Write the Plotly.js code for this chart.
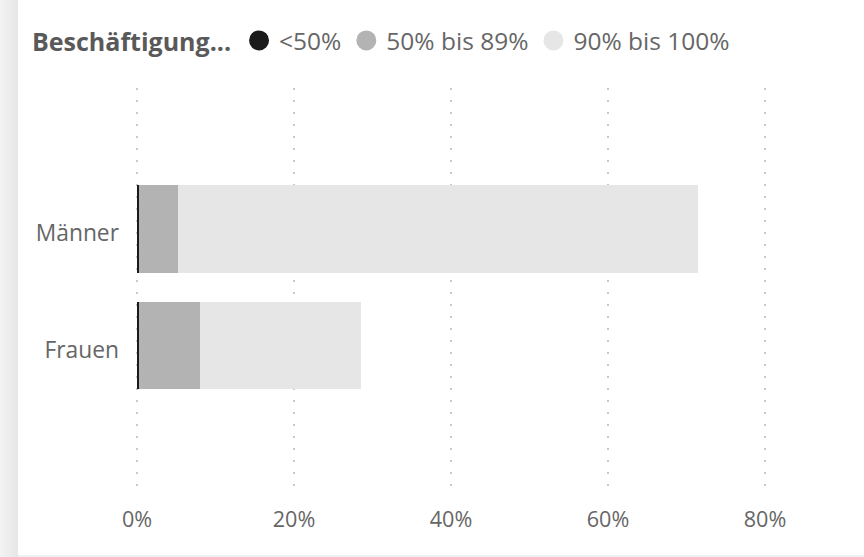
<!DOCTYPE html>
<html>
<head>
<meta charset="utf-8">
<script src="https://cdn.plot.ly/plotly-3.0.1.min.js"></script>
<style>
  html, body { margin: 0; padding: 0; background: #ffffff; }
  #wrap { position: relative; width: 864px; height: 557px; overflow: hidden; background: #fff; }
  #edge { position: absolute; left: 0; top: 0; width: 18px; height: 557px;
          background: linear-gradient(to right, #f3f3f3, #e6e6e6); }
  #bottom { position: absolute; left: 18px; bottom: 0; width: 846px; height: 2px; background: #f0f0f0; }
  #chart { position: absolute; left: 0; top: 0; width: 864px; height: 557px; }
</style>
</head>
<body>
<div id="wrap">
  <div id="edge"></div>
  <div id="bottom"></div>
  <div id="chart"></div>
</div>
<script>
// Data
const categories = ['Frauen', 'Männer'];
const seriesNames = ['<50%', '50% bis 89%', '90% bis 100%'];
const seriesColors = ['#1b1b1b', '#b3b3b3', '#e6e6e6'];
const valuesLt50 = [0.3, 0.2];
const values50to89 = [7.7, 5.0];
const values90to100 = [20.5, 66.3];
const xTickVals = [0, 20, 40, 60, 80];
const xTickLabels = ['0%', '20%', '40%', '60%', '80%'];
const legendTitle = 'Beschäftigung...';

const seriesValues = [valuesLt50, values50to89, values90to100];
const FONT = '"Open Sans", "Noto Sans", sans-serif';

const traces = [];
seriesValues.forEach((vals, i) => {
  traces.push({
    type: 'bar', orientation: 'h',
    x: vals, y: categories,
    name: seriesNames[i],
    marker: { color: seriesColors[i], line: { width: 0 } },
    width: 0.75,
    showlegend: false,
    hoverinfo: 'x+y+name'
  });
});
// legend entries with circle markers
seriesValues.forEach((vals, i) => {
  traces.push({
    type: 'scatter', mode: 'markers',
    x: [null], y: [null],
    name: seriesNames[i],
    marker: { color: seriesColors[i], size: 16, symbol: 'circle',
              line: { color: seriesColors[i], width: 4 } },
    showlegend: true,
    hoverinfo: 'skip'
  });
});

const layout = {
  width: 864, height: 557,
  paper_bgcolor: 'rgba(0,0,0,0)',
  plot_bgcolor: 'rgba(0,0,0,0)',
  barmode: 'stack',
  margin: { l: 134, r: 20, t: 88, b: 61 },
  font: { family: FONT, color: '#666666', size: 22 },
  xaxis: {
    range: [-0.382, 90.06],
    tickvals: xTickVals,
    ticktext: xTickLabels,
    showgrid: true,
    gridcolor: '#c8c8c8',
    gridwidth: 1.5,
    griddash: '1.5px,10.5px',
    zeroline: false,
    showline: false,
    ticks: '',
    ticklabelstandoff: 8,
    tickfont: { family: FONT, size: 21.6, color: '#666666' },
    fixedrange: true
  },
  yaxis: {
    type: 'category',
    categoryorder: 'array',
    categoryarray: categories,
    range: [-1.29, 2.21],
    showgrid: false,
    zeroline: false,
    showline: false,
    ticks: '',
    ticklabelstandoff: 14,
    ticklabelshift: 4,
    tickfont: { family: FONT, size: 22.8, color: '#666666' },
    fixedrange: true
  },
  legend: {
    orientation: 'h',
    traceorder: 'normal',
    itemsizing: 'trace',
    xref: 'container', yref: 'container',
    x: 30 / 864, y: 1 - 18 / 557,
    xanchor: 'left', yanchor: 'top',
    title: { text: '<b>' + legendTitle + '</b>', font: { family: FONT, size: 25, color: '#595959' }, side: 'left' },
    font: { family: FONT, size: 24.5, color: '#666666' },
    itemwidth: 30,
    tracegroupgap: 0,
    bgcolor: 'rgba(0,0,0,0)'
  },
  showlegend: true
};

Plotly.newPlot('chart', traces, layout, { displayModeBar: false, staticPlot: true });
</script>
</body>
</html>
